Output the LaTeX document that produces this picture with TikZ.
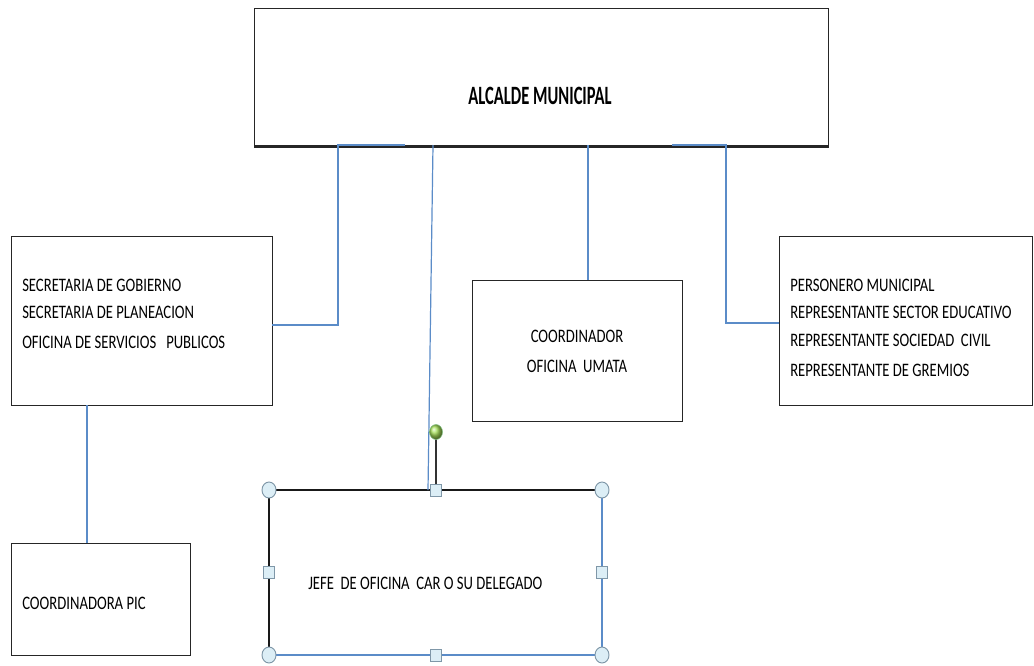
\documentclass[tikz,border=0pt]{standalone}
\usepackage{fontspec}
\setmainfont{Carlito}
\usetikzlibrary{calc}
\newcommand{\tall}[1]{\scalebox{1}[1.3]{#1}}
\begin{document}
\begin{tikzpicture}[x=0.75pt,y=-0.75pt,
  box/.style={draw=black!85,line width=1.1pt},
  conn/.style={draw=connblue,line width=0.9pt},
  txt/.style={font=\fontsize{11}{13}\selectfont,inner sep=0pt},
  handlec/.style={draw=handleedge,fill=handlefill,line width=0.7pt},
]
\definecolor{connblue}{HTML}{5B8CC8}
\definecolor{handleedge}{HTML}{7F97A8}
\definecolor{handlefill}{HTML}{DCEEF6}
\definecolor{greenh}{HTML}{A6E05A}
\useasboundingbox[fill=white] (0,0) rectangle (1034,665);
% boxes
\node[box,minimum width=574*0.75pt,minimum height=137*0.75pt,anchor=north west,inner sep=0pt] (alc) at (254,8) {};
\draw[black!85,line width=1.6pt] (alc.south west) -- (alc.south east);
\node[box,minimum width=261*0.75pt,minimum height=169*0.75pt,anchor=north west,inner sep=0pt] (sec) at (11,236) {};
\node[box,minimum width=210*0.75pt,minimum height=141*0.75pt,anchor=north west,inner sep=0pt] (umata) at (472,280) {};
\node[box,minimum width=253*0.75pt,minimum height=169*0.75pt,anchor=north west,inner sep=0pt] (pers) at (779,236) {};
\node[box,minimum width=179*0.75pt,minimum height=112*0.75pt,anchor=north west,inner sep=0pt] (pic) at (11,543) {};
% jefe box
\coordinate (jnw) at (269,490);
\coordinate (jne) at (602,490);
\coordinate (jsw) at (269,655);
\coordinate (jse) at (602,655);
\coordinate (jn) at (436,490);
\coordinate (js) at (436,655);
\coordinate (jw) at (269,572);
\coordinate (je) at (602,572);
\coordinate (rot) at (436,432);
\draw[connblue,line width=0.9pt] (jne) -- (jse) -- (jsw);
\draw[black!90,line width=1.6pt] (jsw) -- (jnw) -- (jne);
% texts
\node[font=\fontsize{12.4}{14}\bfseries\selectfont,inner sep=0pt] (talc) at (540,96) {\scalebox{1}[1.6]{ALCALDE MUNICIPAL}};
\node[txt,anchor=west] (s1) at (22,285) {\tall{SECRETARIA DE GOBIERNO}};
\node[txt,anchor=west] (s2) at (22,312) {\tall{SECRETARIA DE PLANEACION}};
\node[txt,anchor=west] (s3) at (22,342) {\tall{OFICINA DE SERVICIOS\ \ \ PUBLICOS}};
\node[txt] (u1) at (577,336) {\tall{COORDINADOR}};
\node[txt] (u2) at (577,366) {\tall{OFICINA\ \ UMATA}};
\node[txt,anchor=west] (p1) at (790,285) {\tall{PERSONERO MUNICIPAL}};
\node[txt,anchor=west] (p2) at (790,312) {\tall{REPRESENTANTE SECTOR EDUCATIVO}};
\node[txt,anchor=west] (p3) at (790,340) {\tall{REPRESENTANTE SOCIEDAD\ \ CIVIL}};
\node[txt,anchor=west] (p4) at (790,370) {\tall{REPRESENTANTE DE GREMIOS}};
\node[txt,anchor=west] (j1) at (308,583) {\tall{JEFE\ \ DE OFICINA\ \ CAR O SU DELEGADO}};
\node[txt,anchor=west] (c1) at (22,603) {\tall{COORDINADORA PIC}};
% connectors
\coordinate (a0) at (405,145);
\coordinate (a1) at (338,145);
\coordinate (a1b) at (338,325);
\coordinate (a1c) at (272,325);
\coordinate (a2) at (433,145);
\coordinate (a2b) at (428,490);
\coordinate (a3) at (588,145);
\coordinate (a3b) at (588,280);
\coordinate (a5) at (672,145);
\coordinate (a4) at (726,145);
\coordinate (a4b) at (726,323);
\coordinate (a4c) at (779,323);
\coordinate (b1) at (87,405);
\coordinate (b2) at (87,543);
\draw[conn] (a0) -- (a1) -- (a1b) -- (a1c);
\draw[conn] (a2) -- (a2b);
\draw[conn] (a3) -- (a3b);
\draw[conn] (a5) -- (a4) -- (a4b) -- (a4c);
\draw[conn] (b1) -- (b2);
% handles
\draw[black!80,line width=0.8pt] (rot) -- (jn);
\shade[ball color=greenh,draw=green!50!black!50] (rot) ellipse [x radius=6.5,y radius=7.5];
\foreach \p in {jnw,jne,jsw,jse}{\draw[handlec] (\p) ellipse [x radius=7,y radius=8];}
\foreach \p in {jn,js,jw,je}{\draw[handlec] ($(\p)+(-5.5,-6)$) rectangle ($(\p)+(5.5,6)$);}
\end{tikzpicture}
\end{document}
